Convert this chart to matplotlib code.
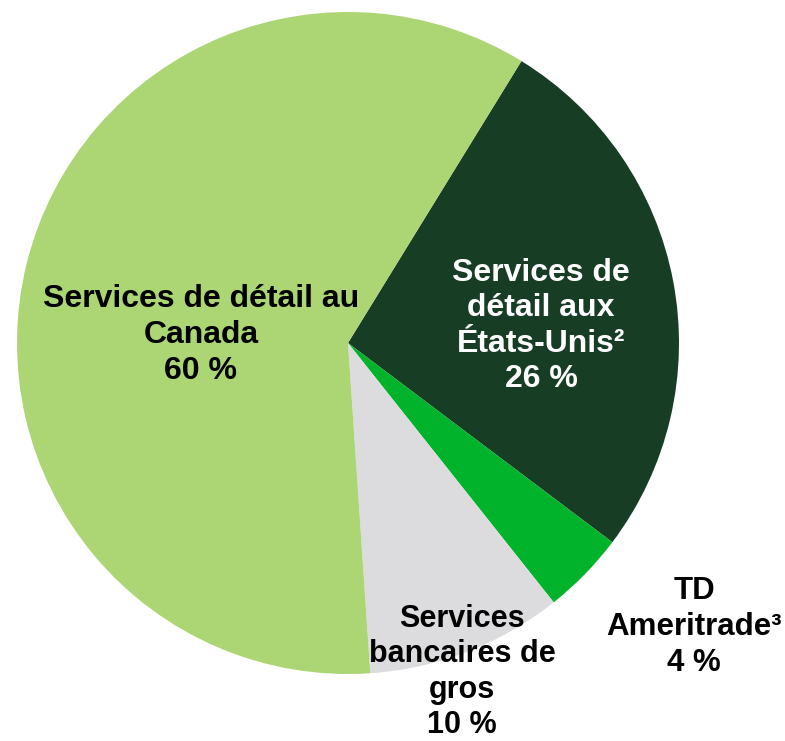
import matplotlib
matplotlib.use("Agg")
import matplotlib.pyplot as plt

# Data
categories = ["Services de détail aux États-Unis²", "TD Ameritrade³",
              "Services bancaires de gros", "Services de détail au Canada"]
label_text = ["Services de\ndétail aux\nÉtats-Unis²", "TD\nAmeritrade³",
              "Services\nbancaires de\ngros", "Services de détail au\nCanada"]
values = [26.5, 4.05, 9.6, 59.85]
pct_labels = ["26 %", "4 %", "10 %", "60 %"]

# Styles
colors = ["#173D24", "#00B32A", "#DCDCDE", "#ACD574"]
text_colors = ["white", "black", "black", "black"]

W, H, DPI = 785, 741, 100
cx, cy, R = 348, 343, 331  # pixel center / radius of pie

fig = plt.figure(figsize=(W / DPI, H / DPI), dpi=DPI)
ax = fig.add_axes([0, 0, 1, 1])
ax.pie(values, colors=colors, startangle=58.4, counterclock=False,
       radius=1.0, center=(0, 0), wedgeprops=dict(linewidth=0))
ax.set_xlim(-cx / R, (W - cx) / R)
ax.set_ylim(-(H - cy) / R, cy / R)
ax.set_aspect("equal")
ax.axis("off")

# Label positions (pixel centers of text blocks)
label_px = [(541, 326), (694, 627), (462, 672), (201, 335)]
label_sizes = [23, 22.5, 22, 23]
for txt, pct, (px, py), tc, fs in zip(label_text, pct_labels, label_px,
                                      text_colors, label_sizes):
    ax.text((px - cx) / R, (cy - py) / R, txt + "\n" + pct,
            ha="center", va="center", multialignment="center",
            fontsize=fs, fontweight="bold", color=tc,
            family=["Liberation Sans", "DejaVu Sans"], linespacing=1.24)

fig.savefig("out.png", dpi=DPI)
